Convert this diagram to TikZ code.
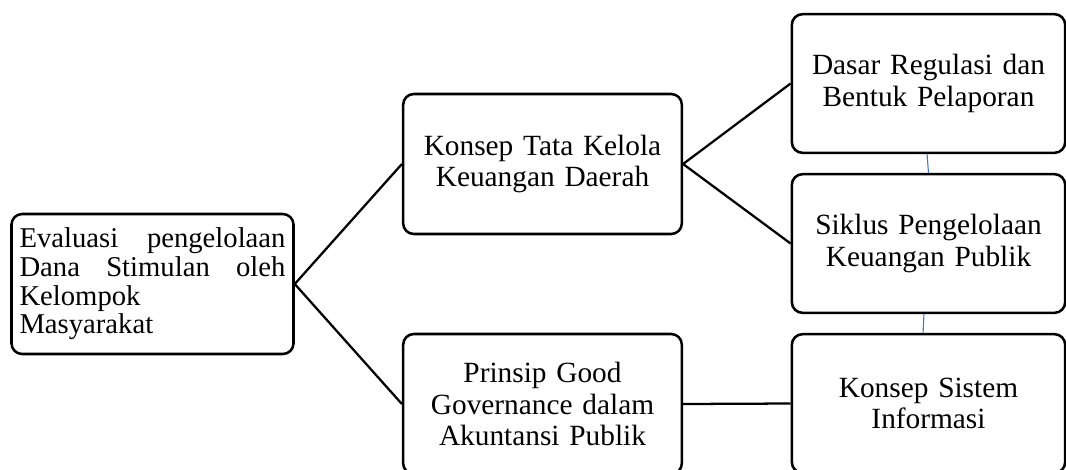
\documentclass[tikz,border=0pt]{standalone}
\usepackage{fontspec}
\setmainfont{Liberation Serif}
\definecolor{linkblue}{RGB}{68,114,196}

\tikzset{
  topicbox/.style={draw=black,line width=1.9pt,rounded corners=8pt,
    inner sep=0pt,align=center,text width=205pt,
    minimum width=209pt,minimum height=105pt,
    font=\fontsize{22}{23.5}\selectfont},
  sidebox/.style={topicbox,minimum width=205pt,minimum height=104pt},
  rootbox/.style={topicbox,align=justify,text width=199.5pt,inner xsep=6pt,
    font=\fontsize{21.5}{21.5}\selectfont},
  branch/.style={black,line width=1.7pt},
  thinlink/.style={linkblue,line width=0.8pt}
}

\begin{document}
\begin{tikzpicture}[x=0.75pt,y=-0.75pt]
  \useasboundingbox (0,0) rectangle (1066,469);
  \clip (0,0) rectangle (1066,469);

% root on the left
  \node[rootbox] (eval) at (152.5,284) {Evaluasi pengelolaan\linebreak Dana Stimulan oleh\linebreak Kelompok\\Masyarakat};

% middle column
  \node[topicbox] (tatakelola) at (542.5,164) {Konsep Tata Kelola\\Keuangan Daerah};
  \node[topicbox] (goodgov) at (542.5,404) {Prinsip Good\\Governance dalam\\Akuntansi Publik};

% right column
  \node[sidebox] (regulasi) at (928.5,83.5) {Dasar Regulasi dan\\Bentuk Pelaporan};
  \node[sidebox] (siklus) at (928.5,243.5) {Siklus Pengelolaan\\Keuangan Publik};
  \node[sidebox] (sisinfo) at (928.5,403.5) {Konsep Sistem\\Informasi};

% connectors
  \draw[branch] (eval.east) -- (tatakelola.west);
  \draw[branch] (eval.east) -- (goodgov.west);
  \draw[branch] (tatakelola.east) -- (regulasi.west);
  \draw[branch] (tatakelola.east) -- (siklus.west);
  \draw[branch] (goodgov.east) -- (sisinfo.west);
  \draw[thinlink] ([xshift=-1.1pt]regulasi.south) -- (siklus.north);
  \draw[thinlink] ([xshift=-3.4pt]siklus.south) -- ([xshift=-4.1pt]sisinfo.north);

\end{tikzpicture}
\end{document}
